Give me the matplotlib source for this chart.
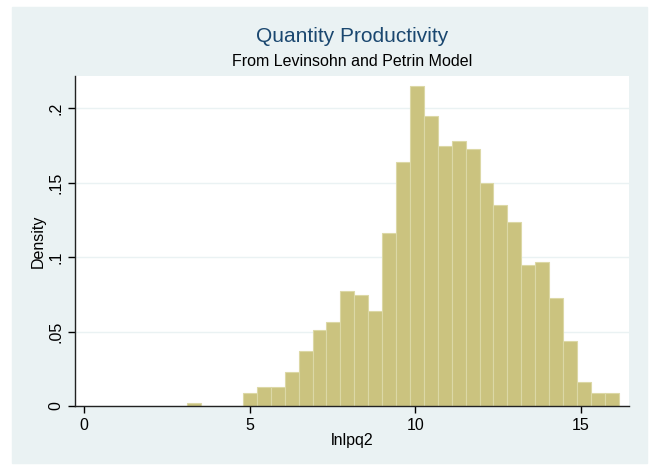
import numpy as np
import matplotlib.pyplot as plt

# histogram bins (lnlpq2), width ~0.42
bin_start = 3.12
bin_width = 0.42
density = [0.002, 0, 0, 0, 0.0089, 0.0127, 0.0127, 0.0225, 0.037, 0.051,
           0.0564, 0.0769, 0.0745, 0.0635, 0.1164, 0.1637, 0.2145, 0.1949,
           0.1744, 0.1779, 0.1726, 0.1494, 0.1349, 0.1233, 0.0948, 0.0965,
           0.0725, 0.0439, 0.0163, 0.0089, 0.0089]
xticks = [0, 5, 10, 15]
yticks = [0, 0.05, 0.1, 0.15, 0.2]
ytick_labels = ["0", ".05", ".1", ".15", ".2"]

plt.rcParams['font.family'] = ['Liberation Sans', 'DejaVu Sans']
bg = "#eaf2f3"

fig = plt.figure(figsize=(6.55, 4.66), dpi=100)
fig.patch.set_facecolor("white")
# stata style outer panel
fig.patches.append(plt.Rectangle((12 / 655, 3 / 466), 635 / 655, 456 / 466,
                                 transform=fig.transFigure, color=bg, zorder=-5))

ax = fig.add_axes([75 / 655, 1 - 406 / 466, 554 / 655, 330 / 466])
ax.set_facecolor("white")

edges = bin_start + bin_width * np.arange(len(density))
ax.bar(edges, density, width=bin_width, align="edge", color="#cbc37f",
       edgecolor="#dcd8a6", linewidth=0.8, zorder=2)

ax.set_xlim(-0.27, 16.45)
ax.set_ylim(0, 0.2215)
ax.set_xticks(xticks)
ax.set_yticks(yticks)
ax.set_yticklabels(ytick_labels, rotation=90, va="center")
ax.tick_params(axis="both", labelsize=11.5, length=5, width=1, colors="black")
ax.grid(axis="y", color=bg, linewidth=1, zorder=0)
ax.set_axisbelow(True)

for s in ["top", "right"]:
    ax.spines[s].set_visible(False)
for s in ["left", "bottom"]:
    ax.spines[s].set_color("#222222")
    ax.spines[s].set_linewidth(1)

ax.set_xlabel("lnlpq2", fontsize=11.5, labelpad=0)
ax.set_ylabel("Density", fontsize=11.5, labelpad=2)

fig.text(352 / 655, 1 - 37 / 466, "Quantity Productivity", ha="center",
         va="center", fontsize=15, color="#1a476f")
fig.text(352 / 655, 1 - 62 / 466, "From Levinsohn and Petrin Model",
         ha="center", va="center", fontsize=11.5, color="black")

fig.savefig("out.png", dpi=100, facecolor=fig.get_facecolor())
